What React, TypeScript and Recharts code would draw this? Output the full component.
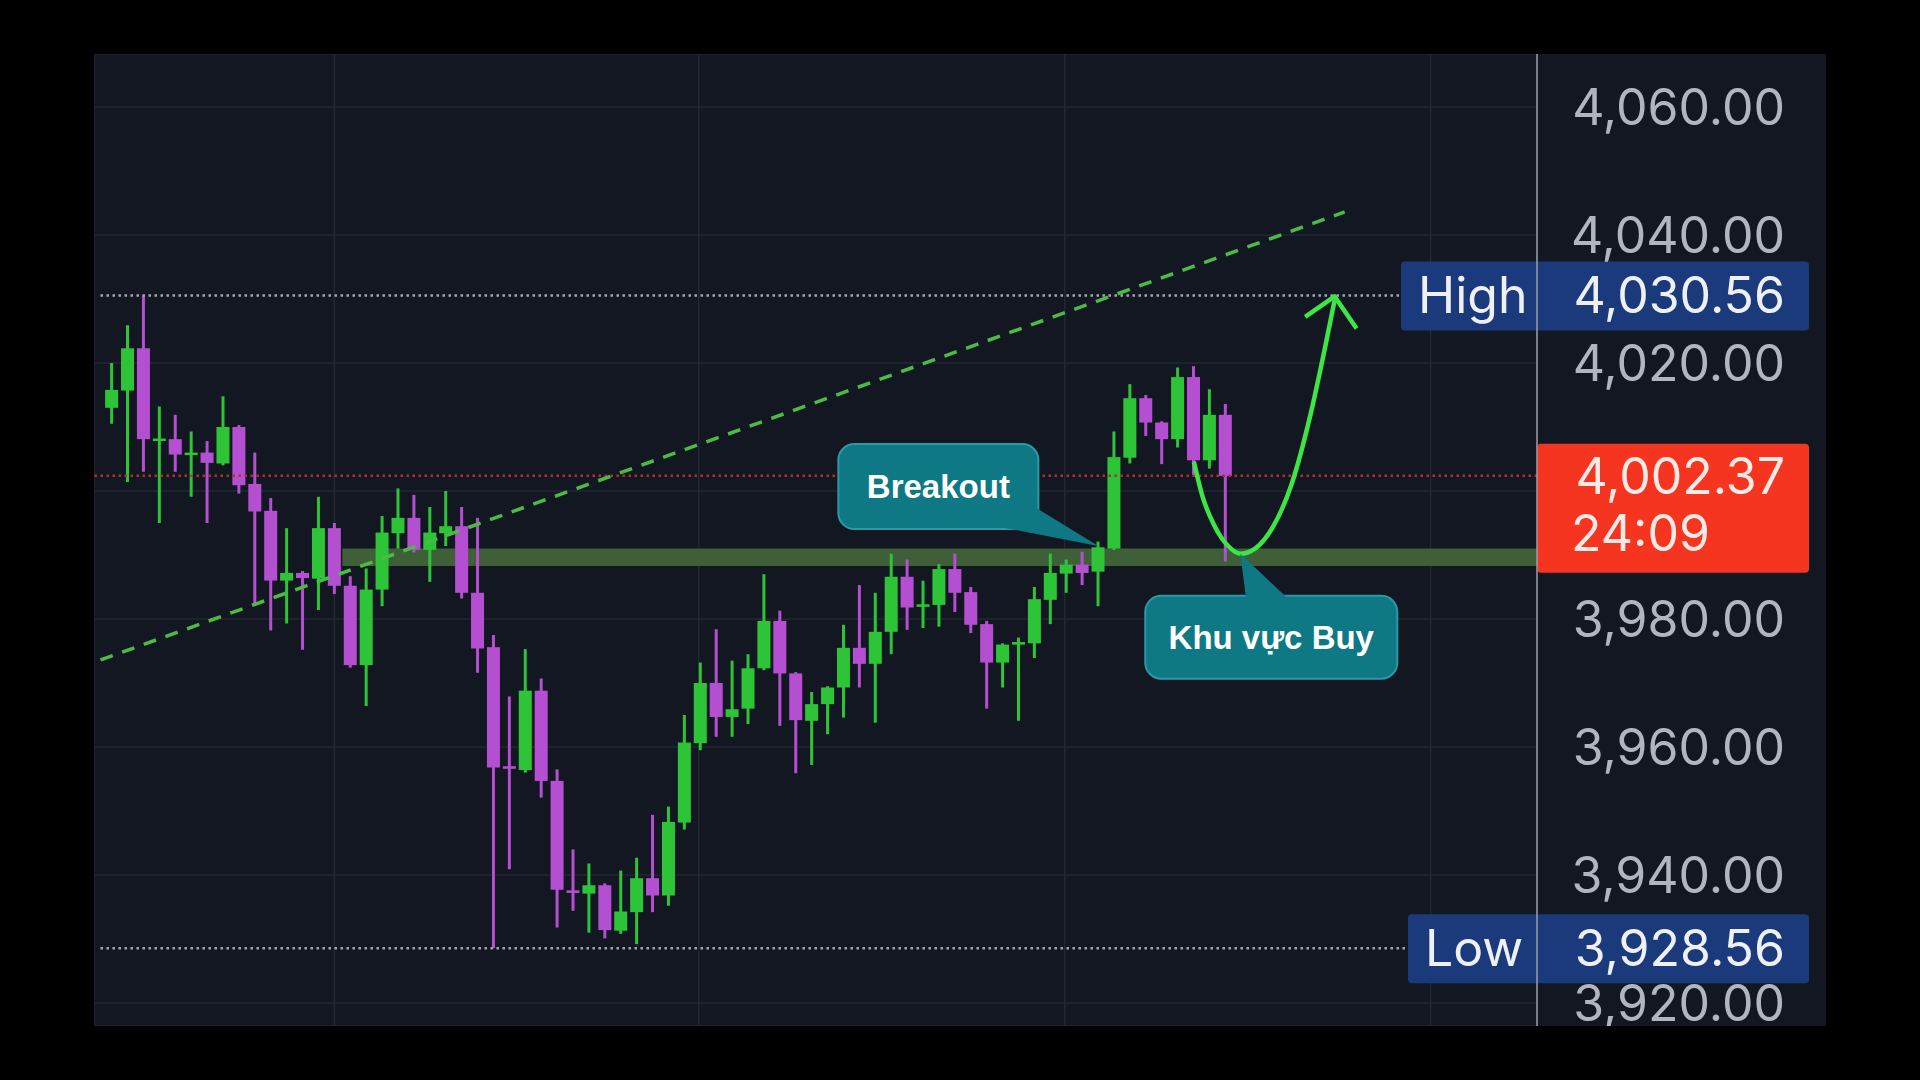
import React from 'react';
import {
  ComposedChart,
  Bar,
  Line,
  XAxis,
  YAxis,
  CartesianGrid,
  ReferenceLine,
  ReferenceArea,
  ReferenceDot,
} from 'recharts';

// OHLC, one entry per candle
const candleOpen = [
  4013.0, 4015.7, 4022.3, 4007.9, 4008.1, 4005.6, 4006.0, 4004.3, 4010.0, 4001.1,
  3996.9, 3986.0, 3987.2, 3986.3, 3994.2, 3985.2, 3972.8, 3984.6, 3993.4, 3995.8,
  3990.8, 3993.4, 3994.5, 3984.1, 3975.6, 3957.0, 3956.4, 3968.8, 3954.7, 3937.6,
  3937.1, 3938.4, 3931.3, 3934.2, 3939.5, 3936.8, 3948.2, 3960.6, 3970.0, 3964.7,
  3966.0, 3972.3, 3979.7, 3971.5, 3964.1, 3966.7, 3969.3, 3975.5, 3973.0, 3978.0,
  3986.6, 3981.9, 3982.2, 3987.8, 3984.2, 3979.2, 3973.2, 3976.0, 3976.2, 3983.0,
  3987.1, 3988.5, 3987.4, 3991.0, 4005.2, 4014.5, 4010.7, 4008.1, 4017.8, 4004.8,
  4011.9,
];
const candleHigh = [
  4020.0, 4025.9, 4030.56, 4013.2, 4011.9, 4009.3, 4007.8, 4014.8, 4010.3, 4006.0,
  3998.9, 3994.2, 3987.5, 3999.1, 3995.0, 3986.7, 3987.9, 3996.1, 4000.4, 3999.4,
  3997.5, 4000.0, 3997.5, 3995.8, 3977.5, 3967.9, 3975.3, 3970.7, 3956.5, 3944.0,
  3941.8, 3938.7, 3940.7, 3942.7, 3949.4, 3950.7, 3965.0, 3973.2, 3978.4, 3973.5,
  3974.5, 3987.0, 3981.3, 3971.7, 3968.6, 3969.5, 3979.1, 3985.3, 3984.1, 3990.2,
  3989.3, 3986.0, 3988.6, 3990.2, 3985.0, 3979.7, 3976.2, 3977.1, 3985.0, 3990.2,
  3989.3, 3990.5, 3992.1, 4009.3, 4016.7, 4015.0, 4010.9, 4019.3, 4019.5, 4015.9,
  4013.6,
];
const candleLow = [
  4010.5, 4001.4, 4003.0, 3995.0, 4003.0, 3999.1, 3995.0, 4004.0, 3999.6, 3982.2,
  3978.2, 3979.3, 3975.2, 3981.4, 3983.9, 3972.4, 3966.4, 3982.0, 3991.0, 3990.4,
  3985.8, 3991.4, 3983.2, 3971.6, 3928.56, 3940.9, 3956.0, 3952.1, 3931.8, 3934.4,
  3931.0, 3930.1, 3930.8, 3929.2, 3934.2, 3935.2, 3947.1, 3959.5, 3961.6, 3961.6,
  3963.6, 3972.0, 3963.3, 3955.9, 3957.2, 3962.0, 3964.6, 3969.3, 3963.8, 3974.5,
  3978.3, 3978.6, 3978.8, 3981.1, 3977.8, 3966.0, 3969.3, 3964.1, 3973.9, 3979.2,
  3984.1, 3985.3, 3982.0, 3990.8, 4004.3, 4008.6, 4004.2, 4006.8, 4002.5, 4003.5,
  3989.0,
];
const candleClose = [
  4015.8, 4022.3, 4008.1, 4008.2, 4005.7, 4006.0, 4004.4, 4010.0, 4000.9, 3996.8,
  3986.0, 3987.2, 3986.4, 3994.2, 3985.2, 3972.8, 3984.6, 3993.5, 3995.8, 3990.8,
  3993.5, 3994.5, 3984.1, 3975.4, 3956.8, 3956.6, 3968.8, 3954.7, 3937.7, 3937.2,
  3938.4, 3931.4, 3934.3, 3939.5, 3936.8, 3948.3, 3960.7, 3970.0, 3964.7, 3965.9,
  3972.3, 3979.7, 3971.5, 3964.2, 3966.7, 3969.3, 3975.5, 3973.0, 3978.0, 3986.6,
  3981.8, 3982.3, 3987.8, 3984.1, 3979.1, 3973.2, 3976.0, 3976.4, 3983.1, 3987.2,
  3988.5, 3987.2, 3991.2, 4005.3, 4014.5, 4010.7, 4008.1, 4017.8, 4004.8, 4011.9,
  4002.37,
];

const priceTicks = [3920, 3940, 3960, 3980, 4000, 4020, 4040, 4060];
const timeGrid = [14, 36.9, 59.9, 82.9];
const xDomain = [-1.108, 89.59];
const yDomain = [3916.41, 4068.28];

const sessionHigh = 4030.56;
const sessionLow = 3928.56;
const lastPrice = 4002.37;
const countdown = '24:09';

// support band (candle index where it starts, bottom, top)
const zoneStart = 14.5;
const zonePrices = [3988.3, 3991.0];

// drawn annotations, in candle index / price
const trendLine = [
  { i: -0.7, p: 3973.6 },
  { i: 77.5, p: 4043.6 },
];
const arrowCurve = [
  { i: 68.02, p: 4004.6 },
  { i: 68.56, p: 3999.2 },
  { i: 69.33, p: 3994.5 },
  { i: 70.18, p: 3991.4 },
  { i: 70.94, p: 3990.2 },
  { i: 71.87, p: 3991.0 },
  { i: 73.02, p: 3994.5 },
  { i: 74.17, p: 4001.1 },
  { i: 75.33, p: 4011.7 },
  { i: 76.25, p: 4022.2 },
  { i: 76.87, p: 4029.8 },
];
const arrowHead = [
  { i: 75.02, p: 4027.2 },
  { i: 76.87, p: 4030.4 },
  { i: 78.25, p: 4025.4 },
];
const breakoutPoint = { i: 62.02, p: 3991.4 };
const buyPoint = { i: 70.94, p: 3990.2 };

const candles = candleOpen.map((open, i) => ({
  i,
  open,
  high: candleHigh[i],
  low: candleLow[i],
  close: candleClose[i],
  range: [candleLow[i], candleHigh[i]],
}));

const GREEN = '#2ec437';
const PURPLE = '#b54fd2';
const BG = '#131722';
const FONT = 'Inter, Roboto, sans-serif';
const AXIS_TEXT_RIGHT = 248;

const fmt = (v: number) =>
  v.toLocaleString('en-US', { minimumFractionDigits: 2, maximumFractionDigits: 2 });

const Candle = (props: any) => {
  const { x, y, width, height, payload } = props;
  if (!payload) return null;
  const { open, close, high, low } = payload;
  const color = close >= open ? GREEN : PURPLE;
  const top = Math.min(y, y + height);
  const h = Math.abs(height);
  const k = h / (high - low || 1);
  const cx = x + width / 2;
  const bodyTop = top + (high - Math.max(open, close)) * k;
  const bodyH = Math.max(Math.abs(open - close) * k, 2.5);
  return (
    <g>
      <line x1={cx} x2={cx} y1={top} y2={top + h} stroke={color} strokeWidth={3} />
      <rect x={cx - 6.5} y={bodyTop} width={13} height={bodyH} fill={color} />
    </g>
  );
};

const PriceTick = (props: any) => {
  const { x, y, payload } = props;
  if (payload.value === 4000) return <g />;
  return (
    <text
      x={x + AXIS_TEXT_RIGHT}
      y={y}
      textAnchor="end"
      dominantBaseline="central"
      fill="#b2b5be"
      fontSize={50}
      fontFamily={FONT}
    >
      {fmt(payload.value)}
    </text>
  );
};

const RangeTag = (props: any) => {
  const { viewBox, title, value, left } = props;
  if (!viewBox) return null;
  const right = viewBox.x + viewBox.width;
  const cy = viewBox.y;
  return (
    <g>
      <rect x={right - left} y={cy - 34} width={left + 272} height={69} rx={4} fill="#1a3a7c" />
      <text
        x={right - left + 17}
        y={cy}
        dominantBaseline="central"
        fill="#eef0f5"
        fontSize={50}
        fontFamily={FONT}
      >
        {title}
      </text>
      <text
        x={right + AXIS_TEXT_RIGHT}
        y={cy}
        textAnchor="end"
        dominantBaseline="central"
        fill="#eef0f5"
        fontSize={50}
        fontFamily={FONT}
      >
        {fmt(value)}
      </text>
    </g>
  );
};

const LastTag = (props: any) => {
  const { viewBox } = props;
  if (!viewBox) return null;
  const right = viewBox.x + viewBox.width;
  const cy = viewBox.y;
  return (
    <g>
      <rect x={right} y={cy - 32} width={272} height={129} rx={4} fill="#f5351f" />
      <text
        x={right + AXIS_TEXT_RIGHT}
        y={cy}
        textAnchor="end"
        dominantBaseline="central"
        fill="#fde9e5"
        fontSize={50}
        fontFamily={FONT}
      >
        {fmt(lastPrice)}
      </text>
      <text
        x={right + 34}
        y={cy + 57}
        dominantBaseline="central"
        fill="#fde9e5"
        fontSize={50}
        fontFamily={FONT}
      >
        {countdown}
      </text>
    </g>
  );
};

const Callout = (props: any) => {
  const { cx, cy, text, box, tail } = props;
  if (cx == null || cy == null) return null;
  const [bx, by, bw, bh] = box;
  const pts = [[0, 0], ...tail].map(([dx, dy]: number[]) => `${cx + dx},${cy + dy}`).join(' ');
  return (
    <g>
      <rect
        x={cx + bx}
        y={cy + by}
        width={bw}
        height={bh}
        rx={16}
        fill="#0e7885"
        stroke="#2b9aa7"
        strokeWidth={2}
      />
      <polygon points={pts} fill="#0e7885" />
      <text
        x={cx + bx + bw / 2}
        y={cy + by + bh / 2}
        textAnchor="middle"
        dominantBaseline="central"
        fill="#ffffff"
        fontSize={33}
        fontWeight={700}
        fontFamily="'Liberation Sans', Arial, sans-serif"
      >
        {text}
      </text>
    </g>
  );
};

export default function App() {
  return (
    <div
      style={{
        position: 'fixed',
        left: 0,
        top: 0,
        width: 1920,
        height: 1080,
        background: '#000',
      }}
    >
      <div
        style={{
          position: 'absolute',
          left: 94,
          top: 54,
          width: 1732,
          height: 972,
          background: BG,
        }}
      >
        <ComposedChart
          width={1732}
          height={972}
          data={candles}
          margin={{ top: 0, right: 0, bottom: 0, left: 0 }}
        >
          <CartesianGrid stroke="#232734" strokeWidth={1.5} />
          <XAxis
            dataKey="i"
            type="number"
            domain={xDomain}
            allowDataOverflow
            ticks={timeGrid}
            hide
          />
          <YAxis
            orientation="right"
            width={289}
            domain={yDomain}
            allowDataOverflow
            ticks={priceTicks}
            interval={0}
            tickLine={false}
            tickSize={0}
            tickMargin={0}
            axisLine={{ stroke: '#9a9ea8', strokeWidth: 1.5 }}
            tick={<PriceTick />}
          />
          <ReferenceArea
            x1={zoneStart}
            x2={xDomain[1]}
            y1={zonePrices[0]}
            y2={zonePrices[1]}
            fill="#3e5f37"
            fillOpacity={1}
            stroke="none"
          />
          <ReferenceLine
            segment={[
              { x: -0.7, y: sessionHigh },
              { x: 81.0, y: sessionHigh },
            ]}
            stroke="#a3a7b0"
            strokeWidth={2.5}
            strokeDasharray="2.5 3.5"
          />
          <ReferenceLine
            segment={[
              { x: -0.7, y: sessionLow },
              { x: 81.5, y: sessionLow },
            ]}
            stroke="#a3a7b0"
            strokeWidth={2.5}
            strokeDasharray="2.5 3.5"
          />
          <ReferenceLine
            y={lastPrice}
            stroke="#a8342b"
            strokeWidth={2.5}
            strokeDasharray="2.5 3.5"
            label={<LastTag />}
          />
          <ReferenceLine
            segment={[
              { x: trendLine[0].i, y: trendLine[0].p },
              { x: trendLine[1].i, y: trendLine[1].p },
            ]}
            stroke="#4cbb44"
            strokeWidth={3.5}
            strokeDasharray="13 10"
          />
          <Bar dataKey="range" barSize={13} shape={<Candle />} isAnimationActive={false} />
          <Line
            data={arrowCurve}
            dataKey="p"
            type="monotone"
            stroke="#3de646"
            strokeWidth={4.5}
            dot={false}
            activeDot={false}
            isAnimationActive={false}
          />
          <Line
            data={arrowHead}
            dataKey="p"
            type="linear"
            stroke="#3de646"
            strokeWidth={4.5}
            strokeLinejoin="round"
            dot={false}
            activeDot={false}
            isAnimationActive={false}
          />
          <ReferenceLine
            y={sessionHigh}
            stroke="none"
            label={<RangeTag title="High" value={sessionHigh} left={136} />}
          />
          <ReferenceLine
            y={sessionLow}
            stroke="none"
            label={<RangeTag title="Low" value={sessionLow} left={129} />}
          />
          <ReferenceDot
            x={breakoutPoint.i}
            y={breakoutPoint.p}
            r={0}
            shape={
              <Callout
                text="Breakout"
                box={[-260, -102, 200, 85]}
                tail={[
                  [-62, -38],
                  [-75, -28],
                  [-98, -19],
                ]}
              />
            }
          />
          <ReferenceDot
            x={buyPoint.i}
            y={buyPoint.p}
            r={0}
            shape={
              <Callout
                text="Khu vực Buy"
                box={[-95, 42, 252, 83]}
                tail={[
                  [49, 46],
                  [6, 46],
                ]}
              />
            }
          />
        </ComposedChart>
      </div>
    </div>
  );
}
